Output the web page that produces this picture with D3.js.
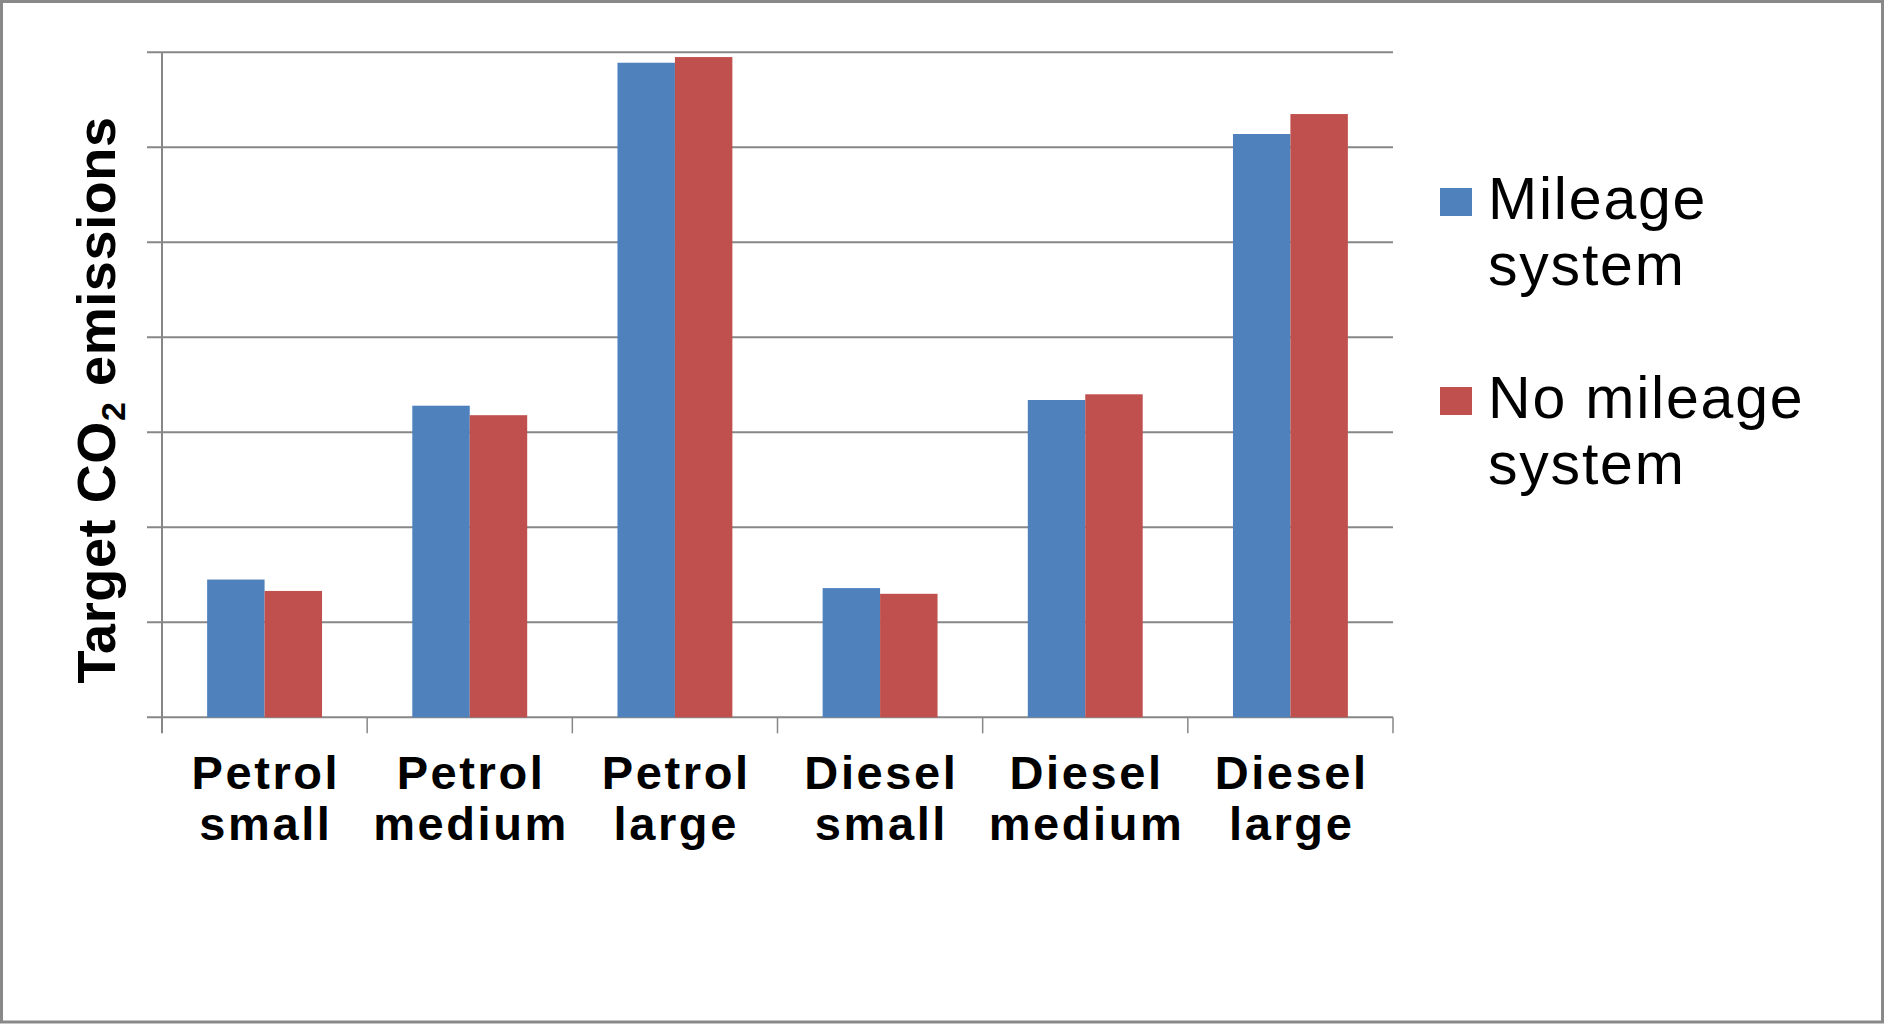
<!DOCTYPE html>
<html>
<head>
<meta charset="utf-8">
<script src="https://cdn.jsdelivr.net/npm/d3@7"></script>
<style>
  html, body { margin: 0; padding: 0; background: #fff; }
  svg { display: block; }
</style>
</head>
<body>
<svg id="chart" width="1885" height="1024"></svg>
<script>
// Vehicle categories (two-line labels) and target CO2 emissions per scheme
const categories = ["Petrol small", "Petrol medium", "Petrol large", "Diesel small", "Diesel medium", "Diesel large"];
const categoryLines = [["Petrol", "small"], ["Petrol", "medium"], ["Petrol", "large"], ["Diesel", "small"], ["Diesel", "medium"], ["Diesel", "large"]];
const seriesNames = ["Mileage system", "No mileage system"];
const seriesLines = [["Mileage", "system"], ["No mileage", "system"]];
const mileageSystem   = [1.45, 3.28, 6.89, 1.36, 3.34, 6.14];
const noMileageSystem = [1.33, 3.18, 6.95, 1.30, 3.40, 6.35];
const gridValues = [0, 1, 2, 3, 4, 5, 6, 7];
const colors = ["#4F81BD", "#C0504D"];

const svg = d3.select("#chart");
const W = 1885, H = 1024;

// outer frame
svg.append("rect")
  .attr("x", 1.5).attr("y", 1.5)
  .attr("width", W - 4).attr("height", H - 3.5)
  .attr("fill", "#fff").attr("stroke", "#898989").attr("stroke-width", 3);

const plot = { left: 162, right: 1393, top: 52.3, bottom: 717.3 };

const x = d3.scaleBand().domain(categories).range([plot.left, plot.right]).padding(0);
const y = d3.scaleLinear().domain([0, 7]).range([plot.bottom, plot.top]);

const gridColor = "#878787";

// horizontal gridlines with left ticks
svg.append("g").selectAll("line").data(gridValues).join("line")
  .attr("x1", plot.left - 15).attr("x2", plot.right)
  .attr("y1", d => y(d)).attr("y2", d => y(d))
  .attr("stroke", gridColor).attr("stroke-width", 2);

// vertical axis line
svg.append("line")
  .attr("x1", plot.left).attr("x2", plot.left)
  .attr("y1", plot.top).attr("y2", plot.bottom + 16)
  .attr("stroke", gridColor).attr("stroke-width", 2);

// category boundary ticks
const boundaries = categories.map(c => x(c)).concat([x(categories[categories.length - 1]) + x.bandwidth()]);
svg.append("g").selectAll("line").data(boundaries.slice(1)).join("line")
  .attr("x1", d => d).attr("x2", d => d)
  .attr("y1", plot.bottom).attr("y2", plot.bottom + 16)
  .attr("stroke", gridColor).attr("stroke-width", 1.5);

// grouped bars
const barW = x.bandwidth() * 0.28;
const series = [mileageSystem, noMileageSystem];
series.forEach((vals, si) => {
  svg.append("g").selectAll("rect").data(vals).join("rect")
    .attr("x", (d, i) => x(categories[i]) + x.bandwidth() / 2 - barW + si * barW)
    .attr("y", d => y(d))
    .attr("width", barW)
    .attr("height", d => y(0) - y(d))
    .attr("fill", colors[si]);
});

// category labels
const labelG = svg.append("g")
  .attr("font-family", "'Liberation Sans', Arial, sans-serif")
  .attr("font-weight", "bold").attr("font-size", 47).attr("fill", "#000")
  .attr("letter-spacing", 2.6)
  .attr("text-anchor", "middle");
categoryLines.forEach((lines, i) => {
  const cx = x(categories[i]) + x.bandwidth() / 2;
  lines.forEach((ln, li) => {
    labelG.append("text").attr("x", cx + 1.3).attr("y", 789 + li * 51).text(ln);
  });
});

// y axis title
const yt = svg.append("text")
  .attr("transform", "translate(115,400) rotate(-90)")
  .attr("text-anchor", "middle")
  .attr("font-family", "'Liberation Sans', Arial, sans-serif")
  .attr("font-weight", "bold").attr("font-size", 54).attr("fill", "#000")
  .attr("letter-spacing", 0.6);
yt.append("tspan").text("Target CO");
yt.append("tspan").attr("font-size", 34).attr("dy", 10).text("2");
yt.append("tspan").attr("dy", -10).text(" emissions");

// legend
const legend = svg.append("g")
  .attr("font-family", "'Liberation Sans', Arial, sans-serif")
  .attr("font-size", 59).attr("fill", "#000")
  .attr("letter-spacing", 1.8);
const legendTop = [188, 387];
seriesLines.forEach((lines, si) => {
  legend.append("rect")
    .attr("x", 1440).attr("y", legendTop[si])
    .attr("width", 32).attr("height", 28)
    .attr("fill", colors[si]);
  lines.forEach((ln, li) => {
    legend.append("text")
      .attr("x", 1488).attr("y", legendTop[si] + 31 + li * 66)
      .text(ln);
  });
});
</script>
</body>
</html>
